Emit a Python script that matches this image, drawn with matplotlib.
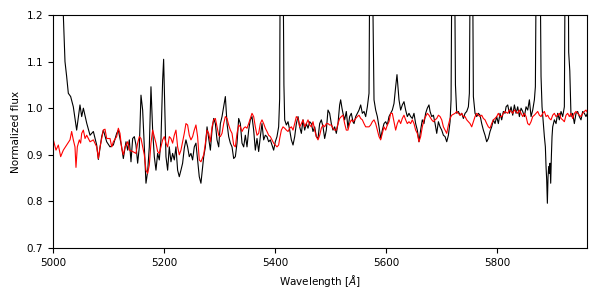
import matplotlib
matplotlib.use("Agg")
import matplotlib.pyplot as plt

# Observed spectrum (black)
obs_wave = [
    5000, 5005, 5010, 5015, 5018.6, 5021.6, 5024.6, 5027.6, 5031.8, 5036.6,
    5042.6, 5048.6, 5051.7, 5054.7, 5060.7, 5066.7, 5072.7, 5078.7, 5081.7, 5087.7,
    5090.7, 5096.7, 5102.7, 5108.7, 5114.7, 5117.7, 5123.7, 5126.7, 5131.5, 5134.5,
    5137.5, 5140.5, 5143.5, 5146.5, 5149.5, 5152.5, 5155.5, 5158.5, 5161.5, 5164.5,
    5167.5, 5170.5, 5173.5, 5176.5, 5179.5, 5182.5, 5185.5, 5188.5, 5191.5, 5194.5,
    5197.5, 5199.3, 5201.7, 5203.5, 5206.5, 5209.5, 5212.5, 5215.5, 5218.5, 5221.5,
    5224.5, 5227.5, 5230.5, 5233.5, 5236.5, 5239.5, 5242.5, 5245.5, 5248.5, 5251.5,
    5254.5, 5257.5, 5260.5, 5263.5, 5266.5, 5271.5, 5274.5, 5277.5, 5280.5, 5283.5,
    5286.5, 5289.5, 5292.5, 5295.5, 5298.5, 5301.5, 5304.5, 5307.5, 5310.5, 5313.5,
    5316.5, 5319.5, 5322.5, 5325.5, 5328.5, 5331.5, 5334.5, 5337.5, 5340.5, 5343.5,
    5346.5, 5349.5, 5352.5, 5355.5, 5358.5, 5361.5, 5364.5, 5367.5, 5370.5, 5373.5,
    5376.5, 5379.5, 5382.5, 5385.5, 5388.5, 5391.5, 5394.5, 5397.5, 5400.5, 5403.5,
    5406.5, 5408.3, 5410, 5412, 5414, 5416, 5417.4, 5420.4, 5423.4, 5426.4,
    5429.4, 5432.4, 5435.4, 5438.4, 5441.4, 5444.4, 5447.4, 5450.4, 5453.4, 5456.4,
    5459.4, 5462.4, 5465.4, 5468.4, 5471.4, 5474.4, 5477.4, 5480.4, 5483.4, 5486.4,
    5489.4, 5492.4, 5495.4, 5498.4, 5501.4, 5504.4, 5507.4, 5510.4, 5513.4, 5516.4,
    5518.2, 5520.6, 5522.4, 5525.4, 5528.4, 5531.4, 5534.4, 5537.4, 5540.4, 5542.3,
    5545.3, 5548.3, 5551.3, 5554.3, 5557.3, 5560.3, 5563.3, 5566.3, 5569.3, 5571,
    5573, 5575.5, 5578.3, 5581.3, 5584.3, 5587.3, 5590.3, 5593.3, 5596.3, 5599.3,
    5602.3, 5605.3, 5608.3, 5611.3, 5614.3, 5617.3, 5619.7, 5621.5, 5623.3, 5626.3,
    5629.3, 5632.3, 5635.3, 5638.3, 5641.3, 5644.3, 5647.3, 5650.3, 5653.3, 5656.3,
    5659.3, 5662.3, 5665.3, 5668.3, 5671.3, 5674.3, 5677.3, 5679.3, 5682.3, 5685.3,
    5688.3, 5691.3, 5694.3, 5697.3, 5700.3, 5703.3, 5706.3, 5709.3, 5712.3, 5715.3,
    5717.1, 5719, 5721, 5723, 5725, 5727.3, 5730.3, 5733.3, 5736.3, 5739.3,
    5742.3, 5745.3, 5748.3, 5750.1, 5752, 5754, 5756, 5757.3, 5760.3, 5763.3,
    5766.3, 5769.3, 5772.3, 5775.3, 5778.3, 5781.3, 5784.3, 5787.3, 5790.3, 5793.3,
    5796.3, 5799.3, 5802.3, 5805.3, 5808.3, 5811.3, 5814.3, 5816.2, 5819.2, 5822.2,
    5825.2, 5828.2, 5831.2, 5834.2, 5837.2, 5840.2, 5843.2, 5846.2, 5849.2, 5852.2,
    5855.2, 5858.2, 5861.2, 5864.2, 5867.2, 5869.0, 5871, 5874, 5877, 5879.2,
    5881.0, 5883.4, 5885.2, 5887.0, 5888.2, 5889.4, 5890.6, 5891.8, 5893.0, 5894.2,
    5895.4, 5896.6, 5897.8, 5899.0, 5900.2, 5903.2, 5906.2, 5909.2, 5912.2, 5915.2,
    5918.2, 5921.2, 5923, 5925, 5927.5, 5929, 5931, 5933.2, 5936.2, 5939.2,
    5942.2, 5945.2, 5948.2, 5951.2, 5954.2, 5957.2, 5960.2, 5963,
]
obs_flux = [
    1.60, 1.50, 1.38, 1.28, 1.20, 1.10, 1.068, 1.032, 1.025, 1.003,
    0.953, 1.007, 0.982, 1.000, 0.968, 0.942, 0.950, 0.921, 0.890, 0.939,
    0.953, 0.928, 0.917, 0.921, 0.946, 0.953, 0.917, 0.892, 0.928, 0.910,
    0.932, 0.885, 0.935, 0.939, 0.921, 0.882, 0.917, 1.028, 0.996, 0.917,
    0.839, 0.864, 0.917, 1.046, 0.953, 0.896, 0.867, 0.903, 0.889, 0.932,
    1.060, 1.105, 0.990, 0.896, 0.867, 0.917, 0.885, 0.903, 0.889, 0.917,
    0.867, 0.853, 0.867, 0.882, 0.914, 0.932, 0.917, 0.896, 0.903, 0.889,
    0.917, 0.925, 0.889, 0.853, 0.839, 0.896, 0.917, 0.960, 0.935, 0.910,
    0.953, 0.978, 0.967, 0.932, 0.917, 0.967, 0.982, 1.003, 1.025, 0.967,
    0.939, 0.925, 0.917, 0.892, 0.896, 0.925, 0.978, 0.967, 0.925, 0.917,
    0.942, 0.917, 0.953, 0.975, 0.982, 0.953, 0.910, 0.935, 0.907, 0.939,
    0.967, 0.932, 0.942, 0.939, 0.928, 0.932, 0.921, 0.910, 0.928, 0.939,
    0.960, 1.020, 1.500, 1.700, 1.400, 1.050, 0.975, 0.964, 0.971, 0.953,
    0.932, 0.921, 0.939, 0.967, 0.982, 0.960, 0.946, 0.975, 0.953, 0.967,
    0.957, 0.971, 0.967, 0.950, 0.960, 0.939, 0.935, 0.967, 0.975, 0.960,
    0.935, 0.953, 0.996, 0.989, 0.967, 0.953, 0.960, 0.946, 0.967, 1.007,
    1.018, 1.000, 0.989, 0.975, 0.993, 0.957, 0.982, 0.989, 0.971, 0.967,
    0.982, 0.989, 0.996, 1.007, 0.989, 0.993, 0.982, 1.003, 1.032, 1.400,
    1.600, 1.300, 1.018, 0.996, 0.982, 0.960, 0.935, 0.953, 0.967, 0.971,
    0.964, 0.982, 0.989, 0.996, 1.010, 1.046, 1.072, 1.046, 1.018, 0.996,
    1.007, 1.014, 0.996, 0.982, 0.989, 0.982, 0.978, 0.989, 0.967, 0.953,
    0.928, 0.953, 0.975, 0.967, 0.989, 1.000, 1.007, 0.993, 0.982, 0.985,
    0.967, 0.946, 0.971, 0.960, 0.953, 0.942, 0.939, 0.928, 0.942, 0.971,
    1.018, 1.400, 1.600, 1.400, 1.050, 0.989, 0.993, 0.985, 0.989, 0.978,
    0.989, 0.993, 1.003, 1.032, 1.400, 1.600, 1.300, 1.025, 0.989, 0.982,
    0.989, 0.985, 0.967, 0.953, 0.942, 0.928, 0.935, 0.950, 0.960, 0.975,
    0.967, 0.982, 0.967, 0.989, 0.975, 0.993, 0.989, 1.003, 1.007, 0.989,
    1.003, 0.985, 1.007, 0.989, 1.003, 0.982, 1.000, 0.993, 0.982, 1.003,
    0.996, 1.018, 0.982, 0.996, 1.018, 1.046, 1.400, 1.600, 1.400, 1.068,
    1.003, 0.967, 0.939, 0.917, 0.875, 0.846, 0.796, 0.853, 0.875, 0.860,
    0.882, 0.839, 0.896, 0.939, 0.960, 0.975, 0.967, 0.989, 0.975, 0.993,
    0.982, 1.003, 1.400, 1.600, 1.500, 1.120, 1.080, 0.982, 0.989, 0.967,
    0.989, 0.993, 0.982, 0.975, 0.993, 0.989, 0.982, 0.990,
]

# Model spectrum (red)
model_wave = [
    5000, 5005.4, 5009.6, 5013.8, 5018.6, 5024.6, 5030.6, 5033.6, 5036.6, 5039.6,
    5041.4, 5043.8, 5047.4, 5049.8, 5051.7, 5054.7, 5057.7, 5060.7, 5066.7, 5072.7,
    5078.7, 5081.7, 5084.7, 5090.7, 5093.7, 5096.7, 5102.7, 5105.8, 5108.7, 5114.7,
    5117.7, 5120.7, 5123.7, 5126.7, 5129.7, 5134.5, 5137.5, 5143.5, 5149.5, 5152.5,
    5155.5, 5158.5, 5161.5, 5164.5, 5167.5, 5170.5, 5173.5, 5176.5, 5179.5, 5182.5,
    5185.5, 5188.5, 5191.5, 5194.5, 5197.5, 5200.5, 5203.5, 5206.5, 5209.5, 5212.5,
    5215.5, 5218.5, 5221.5, 5224.5, 5227.5, 5230.5, 5233.5, 5236.5, 5239.5, 5242.5,
    5245.5, 5248.5, 5251.5, 5254.5, 5257.5, 5260.5, 5263.5, 5266.5, 5271.5, 5274.5,
    5277.5, 5280.5, 5283.5, 5286.5, 5289.5, 5292.5, 5295.5, 5298.5, 5301.5, 5304.5,
    5307.5, 5310.5, 5313.5, 5316.5, 5319.5, 5322.5, 5325.5, 5328.5, 5331.5, 5334.5,
    5337.5, 5340.5, 5343.5, 5346.5, 5349.5, 5352.5, 5355.5, 5358.5, 5361.5, 5364.5,
    5367.5, 5370.5, 5373.5, 5376.5, 5379.5, 5382.5, 5385.5, 5388.5, 5391.5, 5394.5,
    5397.5, 5400.5, 5403.5, 5406.5, 5408.4, 5411.4, 5414.4, 5417.4, 5420.4, 5423.4,
    5426.4, 5429.4, 5432.4, 5435.4, 5438.4, 5441.4, 5444.4, 5447.4, 5450.4, 5453.4,
    5456.4, 5459.4, 5462.4, 5465.4, 5468.4, 5471.4, 5474.4, 5477.4, 5480.4, 5483.4,
    5486.4, 5489.4, 5492.4, 5495.4, 5498.4, 5501.4, 5504.4, 5507.4, 5510.4, 5513.4,
    5516.4, 5519.4, 5522.4, 5525.4, 5528.4, 5531.4, 5534.4, 5537.4, 5540.4, 5545.3,
    5548.3, 5551.3, 5554.3, 5557.3, 5560.3, 5563.3, 5566.3, 5569.3, 5572.3, 5575.3,
    5578.3, 5581.3, 5584.3, 5587.3, 5590.3, 5593.3, 5596.3, 5599.3, 5602.3, 5605.3,
    5608.3, 5611.3, 5614.3, 5617.3, 5620.3, 5623.3, 5626.3, 5629.3, 5632.3, 5635.3,
    5638.3, 5641.3, 5644.3, 5647.3, 5650.3, 5653.3, 5656.3, 5659.3, 5662.3, 5665.3,
    5668.3, 5671.3, 5674.3, 5677.3, 5682.3, 5685.3, 5688.3, 5691.3, 5694.3, 5697.3,
    5700.3, 5703.3, 5706.3, 5709.3, 5712.3, 5715.3, 5718.3, 5721.3, 5724.3, 5727.3,
    5730.3, 5733.3, 5736.3, 5739.3, 5742.3, 5745.3, 5748.3, 5751.3, 5754.3, 5757.3,
    5760.3, 5763.3, 5766.3, 5769.3, 5772.3, 5775.3, 5778.3, 5781.3, 5784.3, 5787.3,
    5790.3, 5793.3, 5796.3, 5799.3, 5802.3, 5805.3, 5808.3, 5811.3, 5814.3, 5819.2,
    5822.2, 5825.2, 5828.2, 5831.2, 5834.2, 5837.2, 5840.2, 5843.2, 5846.2, 5849.2,
    5852.2, 5855.2, 5858.2, 5861.2, 5864.2, 5867.2, 5870.2, 5873.2, 5876.2, 5879.2,
    5882.2, 5885.2, 5888.2, 5891.2, 5894.2, 5897.2, 5900.2, 5903.2, 5906.2, 5909.2,
    5912.2, 5915.2, 5918.2, 5921.2, 5924.2, 5927.2, 5930.2, 5933.2, 5936.2, 5939.2,
    5942.2, 5945.2, 5948.2, 5951.2, 5954.2, 5957.2, 5960.2, 5963,
]
model_flux = [
    0.935, 0.910, 0.921, 0.896, 0.910, 0.921, 0.932, 0.950, 0.932, 0.917,
    0.873, 0.917, 0.932, 0.925, 0.946, 0.953, 0.935, 0.942, 0.928, 0.932,
    0.917, 0.892, 0.917, 0.953, 0.955, 0.935, 0.935, 0.917, 0.928, 0.939,
    0.957, 0.946, 0.914, 0.900, 0.917, 0.928, 0.910, 0.907, 0.903, 0.925,
    0.939, 0.935, 0.917, 0.900, 0.867, 0.860, 0.878, 0.925, 0.953, 0.939,
    0.925, 0.907, 0.903, 0.917, 0.932, 0.939, 0.925, 0.917, 0.939, 0.935,
    0.925, 0.942, 0.953, 0.917, 0.900, 0.910, 0.928, 0.946, 0.967, 0.964,
    0.942, 0.932, 0.939, 0.953, 0.964, 0.939, 0.889, 0.885, 0.900, 0.925,
    0.953, 0.946, 0.928, 0.960, 0.975, 0.978, 0.960, 0.942, 0.939, 0.946,
    0.967, 0.982, 0.978, 0.964, 0.953, 0.946, 0.921, 0.917, 0.946, 0.964,
    0.960, 0.950, 0.957, 0.960, 0.957, 0.967, 0.978, 0.989, 0.982, 0.960,
    0.942, 0.946, 0.967, 0.975, 0.967, 0.957, 0.950, 0.942, 0.939, 0.932,
    0.925, 0.921, 0.917, 0.921, 0.935, 0.953, 0.960, 0.957, 0.953, 0.950,
    0.957, 0.960, 0.953, 0.967, 0.982, 0.978, 0.960, 0.967, 0.975, 0.960,
    0.967, 0.975, 0.964, 0.960, 0.971, 0.953, 0.939, 0.932, 0.942, 0.957,
    0.964, 0.960, 0.967, 0.967, 0.964, 0.964, 0.957, 0.953, 0.953, 0.967,
    0.978, 0.982, 0.985, 0.967, 0.953, 0.953, 0.967, 0.975, 0.971, 0.978,
    0.982, 0.985, 0.978, 0.975, 0.967, 0.960, 0.960, 0.960, 0.964, 0.971,
    0.975, 0.967, 0.953, 0.939, 0.932, 0.946, 0.960, 0.953, 0.964, 0.971,
    0.989, 0.989, 0.971, 0.953, 0.967, 0.975, 0.967, 0.978, 0.985, 0.975,
    0.967, 0.971, 0.967, 0.975, 0.967, 0.953, 0.946, 0.928, 0.939, 0.960,
    0.975, 0.982, 0.989, 0.985, 0.975, 0.971, 0.975, 0.978, 0.985, 0.982,
    0.975, 0.960, 0.953, 0.946, 0.964, 0.978, 0.985, 0.987, 0.989, 0.993,
    0.989, 0.985, 0.989, 0.982, 0.982, 0.975, 0.971, 0.967, 0.960, 0.971,
    0.982, 0.989, 0.985, 0.982, 0.985, 0.978, 0.975, 0.967, 0.960, 0.957,
    0.967, 0.975, 0.978, 0.982, 0.989, 0.982, 0.982, 0.989, 0.993, 0.989,
    0.996, 0.993, 0.989, 0.996, 0.993, 0.989, 0.996, 0.989, 0.982, 0.989,
    0.982, 0.967, 0.964, 0.971, 0.982, 0.985, 0.989, 0.993, 0.985, 0.982,
    0.989, 0.993, 0.982, 0.985, 0.978, 0.975, 0.985, 0.989, 0.982, 0.985,
    0.989, 0.978, 0.975, 0.971, 0.985, 0.989, 0.982, 0.989, 0.978, 0.989,
    0.993, 0.989, 0.985, 0.982, 0.989, 0.993, 0.996, 0.990,
]

x_ticks = [5000, 5200, 5400, 5600, 5800]
y_ticks = [0.7, 0.8, 0.9, 1.0, 1.1, 1.2]

fig = plt.figure(figsize=(6, 3), dpi=100)
ax = fig.add_axes([53 / 600, 52 / 300, 534 / 600, 233 / 300])
ax.plot(obs_wave, obs_flux, color="black", lw=0.8)
ax.plot(model_wave, model_flux, color="red", lw=0.8)
ax.set_xlim(5000, 5962)
ax.set_ylim(0.7, 1.2)
ax.set_xticks(x_ticks)
ax.set_yticks(y_ticks)
ax.set_yticklabels([f"{v:.1f}" for v in y_ticks])
ax.tick_params(labelsize=7.5, length=3.5, width=0.8)
ax.set_xlabel(r"Wavelength [$\AA$]", fontsize=7.5)
ax.set_ylabel("Normalized flux", fontsize=7.5)
for s in ax.spines.values():
    s.set_linewidth(0.8)
fig.savefig("out.png", dpi=100)
